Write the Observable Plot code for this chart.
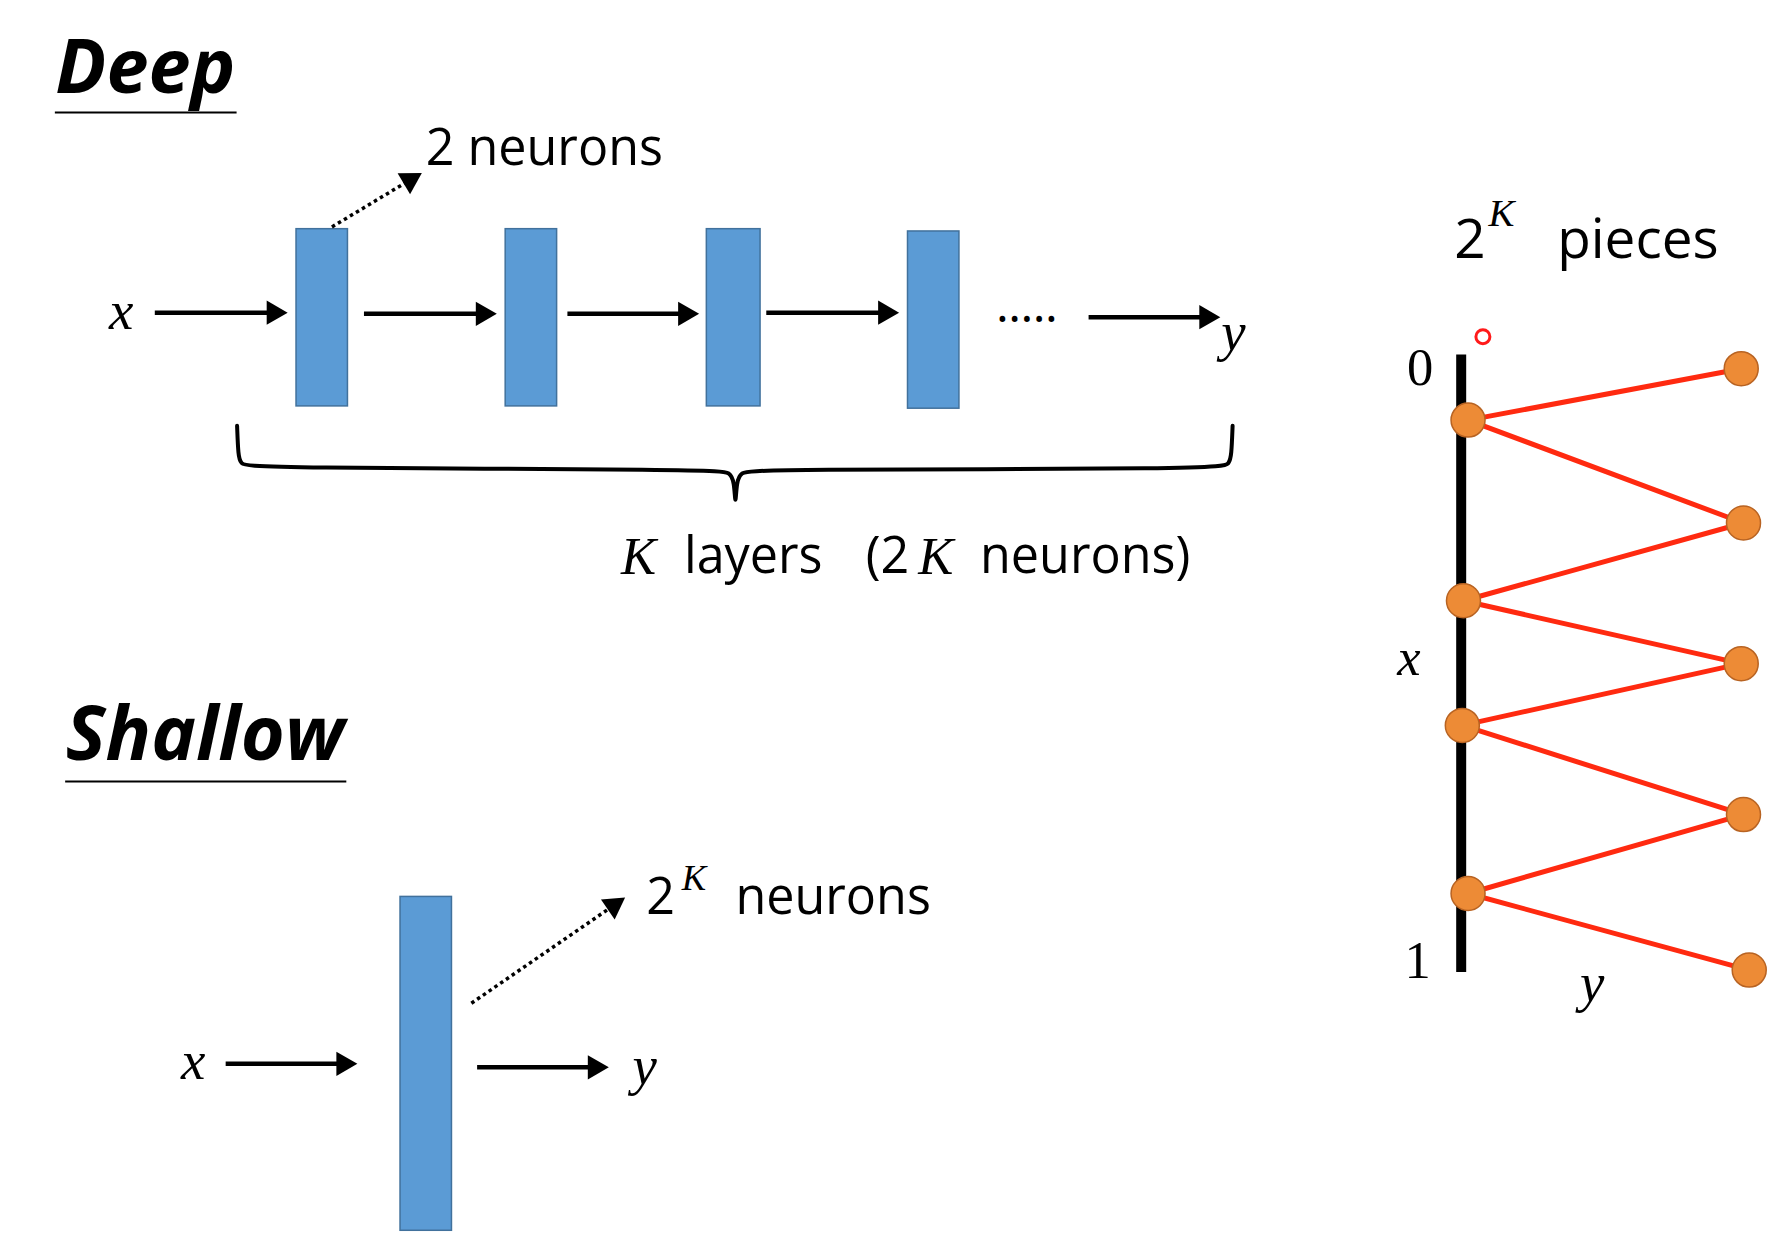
<!DOCTYPE html>
<html><head><meta charset="utf-8">
<script src="https://cdn.jsdelivr.net/npm/d3@7"></script>
<script src="https://cdn.jsdelivr.net/npm/@observablehq/plot@0.6"></script>
<style>body{margin:0;background:#fff}</style>
</head><body><div id="c"></div>
<script>
// diagram coordinates (reference units, 1560 x 1081 frame)
const deepBars = [{x1:259,x2:304,y1:200,y2:355},{x1:442,x2:487,y1:200,y2:355},{x1:618,x2:665,y1:200,y2:355},{x1:794,x2:839,y1:202,y2:357}];
const shallowBars = [{x1:350,x2:395,y1:784,y2:1076}];
const arrows = [
 {x1:135,y1:273,x2:247,y2:273},{x1:318,y1:274,x2:430,y2:274},{x1:496,y1:274,x2:607,y2:274},
 {x1:670,y1:273,x2:782,y2:273},{x1:952,y1:277,x2:1063,y2:277},
 {x1:197,y1:930,x2:308,y2:930},{x1:417,y1:933,x2:528,y2:933}];
const dottedArrows = [{x1:290,y1:198,x2:365,y2:153},{x1:412,y1:877,x2:543,y2:787}];
const brace = [[207,372],[208,398],[210,405],[218,409],[628,410],[638,413],[642,420],[643,445],[644,420],[648,413],[658,410],[1068,410],[1075,405],[1077,398],[1078,372]];
const underlines = [{x1:48,x2:207,y:98},{x1:57,x2:303,y:683}];
const leftNodes = [[1284,367],[1280,525],[1279,634],[1284,781]];
const rightNodes = [[1523,322],[1525,457],[1523,580],[1525,712],[1530,848]];
const zig = [rightNodes[0],leftNodes[0],rightNodes[1],leftNodes[1],rightNodes[2],leftNodes[2],rightNodes[3],leftNodes[3],rightNodes[4]];
const sansTexts = [
 {x:372,y:130,t:"2 neurons",s:44},
 {x:598,y:487,t:"layers",s:44},{x:757,y:487,t:"(2",s:44},{x:857,y:487,t:"neurons)",s:44},
 {x:643,y:785,t:"neurons",s:44},
 {x:1362,y:210,t:"pieces",s:48},
 {x:1272,y:210,t:"2",s:48},{x:565,y:785,t:"2",s:44}];
const mathTexts = [
 {x:95,y:272,t:"x",s:48},{x:1068,y:290,t:"y",s:48},{x:543,y:487,t:"K",s:46},{x:803,y:487,t:"K",s:46},
 {x:158,y:928,t:"x",s:48},{x:553,y:932,t:"y",s:48},{x:1222,y:575,t:"x",s:46},{x:1382,y:860,t:"y",s:48},
 {x:1302,y:186,t:"K",s:34},{x:596,y:768,t:"K",s:32}];
const axisLabels = [{x:1242,y:322,t:"0"},{x:1240,y:840,t:"1"}];
const titles = [{x:48,y:60,t:"Deep",s:66},{x:57,y:643,t:"Shallow",s:66}];
const k = 1783/1560;
const S = s => s*k;

// arrow heads: triangle at end, rotated along direction
const heads = arr => arr.map(a => {
  const dx = a.x2 - a.x1, dy = a.y2 - a.y1, L = Math.hypot(dx, dy);
  return {x: a.x2 - dx / L * 8, y: a.y2 - dy / L * 8, rot: Math.atan2(dx, -dy) * 180 / Math.PI,
          x1: a.x1, y1: a.y1, x2: a.x2 - dx / L * 12, y2: a.y2 - dy / L * 12};
});
const solid = heads(arrows), dotted = heads(dottedArrows);

const plot = Plot.plot({
  width:1783, height:1236, margin:0,
  x:{domain:[0,1560], axis:null}, y:{domain:[0,1081], range:[0,1236], axis:null},
  marks:[
    Plot.rect(deepBars.concat(shallowBars),{x1:"x1",x2:"x2",y1:"y1",y2:"y2",fill:"#5b9bd5",stroke:"#41719c",strokeWidth:1.5}),
    Plot.link(solid,{x1:"x1",y1:"y1",x2:"x2",y2:"y2",stroke:"black",strokeWidth:4.5}),
    Plot.link(dotted,{x1:"x1",y1:"y1",x2:"x2",y2:"y2",stroke:"black",strokeWidth:3.5,strokeDasharray:"3.5,3.5"}),
    Plot.dot(solid.concat(dotted),{x:"x",y:"y",rotate:"rot",symbol:"triangle",r:9,fill:"black",stroke:"none"}),
    Plot.text(["....."],{x:898,y:268,text:d=>d,fontSize:S(40),fill:"black"}),
    Plot.line(brace,{x:d=>d[0],y:d=>d[1],stroke:"black",strokeWidth:4,curve:"basis"}),
    Plot.ruleY(underlines,{x1:"x1",x2:"x2",y:"y",stroke:"black",strokeWidth:2}),
    Plot.text(titles,{x:"x",y:"y",text:"t",textAnchor:"start",fontSize:d=>S(d.s),fontWeight:"bold",fontStyle:"italic",fontFamily:"Open Sans",fill:"black"}),
    Plot.text(sansTexts,{x:"x",y:"y",text:"t",textAnchor:"start",fontSize:d=>S(d.s),fontFamily:"Open Sans",fill:"black"}),
    Plot.text(mathTexts,{x:"x",y:"y",text:"t",textAnchor:"start",fontSize:d=>S(d.s),fontStyle:"italic",fontFamily:"Liberation Serif",fill:"black"}),
    Plot.text(axisLabels,{x:"x",y:"y",text:"t",fontSize:S(46),fontFamily:"Liberation Serif",fill:"black"}),
    Plot.ruleX([1278],{y1:310,y2:850,stroke:"black",strokeWidth:10}),
    Plot.line(zig,{x:d=>d[0],y:d=>d[1],stroke:"#ff2a10",strokeWidth:5}),
    Plot.dot(leftNodes.concat(rightNodes),{x:d=>d[0],y:d=>d[1],r:17,fill:"#ed8b36",stroke:"#b86322",strokeWidth:1.5}),
    Plot.dot([[1297,294]],{x:d=>d[0],y:d=>d[1],r:7,stroke:"#ff1a1a",strokeWidth:3,fill:"none"})
  ]
});
document.getElementById("c").appendChild(plot);
</script></body></html>
